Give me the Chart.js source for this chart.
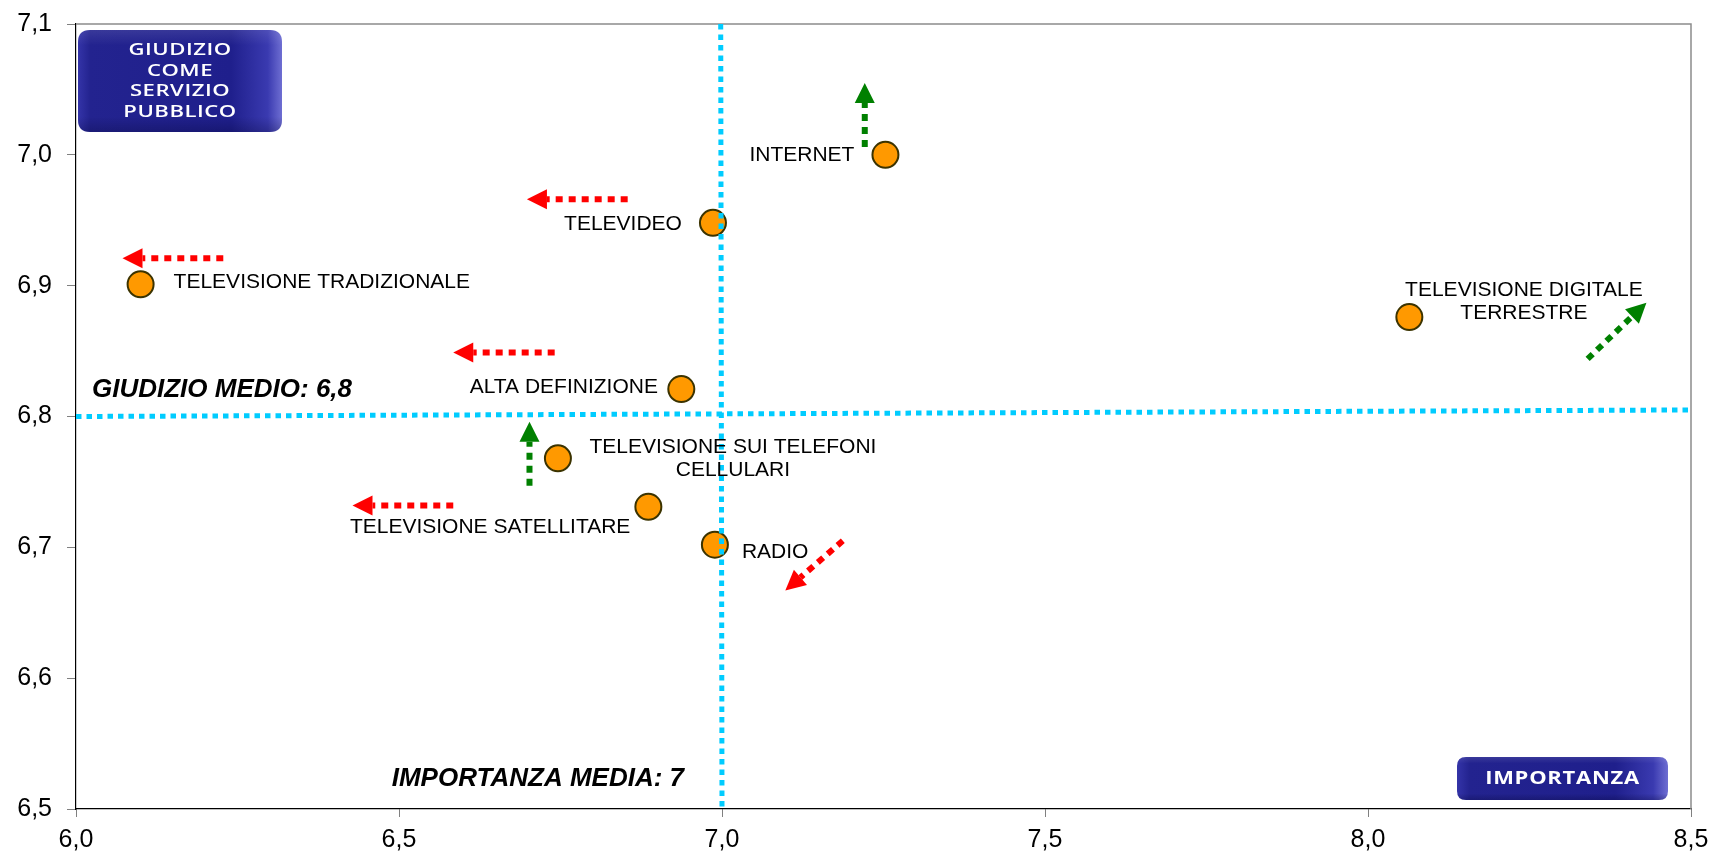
<!DOCTYPE html>
<html lang="it">
<head>
<meta charset="utf-8">
<title>Giudizio come servizio pubblico e importanza dei media</title>
<script src="https://cdn.jsdelivr.net/npm/chart.js@4.4.1/dist/chart.umd.min.js"></script>
<style>
  html, body { margin: 0; padding: 0; background: #ffffff; }
  #wrap { width: 1713px; height: 854px; position: relative; }
</style>
</head>
<body>
<div id="wrap"><canvas id="mappa"></canvas></div>
<script>
// Media analysed (label lines split with \n)
const media = [
  'TELEVISIONE TRADIZIONALE',
  'TELEVIDEO',
  'INTERNET',
  'TELEVISIONE DIGITALE\nTERRESTRE',
  'ALTA DEFINIZIONE',
  'TELEVISIONE SUI TELEFONI\nCELLULARI',
  'TELEVISIONE SATELLITARE',
  'RADIO'
];
// x: importanza, y: giudizio come servizio pubblico
const importanza = [6.100, 6.986, 7.253, 8.064, 6.937, 6.746, 6.886, 6.989];
const giudizio   = [6.901, 6.948, 7.000, 6.876, 6.821, 6.768, 6.731, 6.702];

// Trend arrows (tail -> tip) in data units, one per medium
const trendDaX = [6.228, 6.854, 7.221, 8.340, 6.741, 6.702, 6.584, 7.187];
const trendDaY = [6.921, 6.966, 7.006, 6.844, 6.849, 6.747, 6.732, 6.705];
const trendAX  = [6.072, 6.698, 7.221, 8.431, 6.584, 6.702, 6.428, 7.098];
const trendAY  = [6.921, 6.966, 7.055, 6.887, 6.849, 6.796, 6.732, 6.667];
const trendPositivo = [false, false, true, true, false, true, false, false];

// Average reference lines
const giudizioMedio = 6.8;
const importanzaMedia = 7;
const lineaGiudizioY = [6.800, 6.805];    // at x = 6.0 and x = 8.5
const lineaImportanzaX = [6.998, 7.000];  // at y = 7.1 and y = 6.5

// Axis ticks
const xTicks = [6.0, 6.5, 7.0, 7.5, 8.0, 8.5];
const yTicks = [6.5, 6.6, 6.7, 6.8, 6.9, 7.0, 7.1];

const FONT = "'Liberation Sans', Arial, Helvetica, sans-serif";
const fmt = v => Number(v).toFixed(1).replace('.', ',');

// Label placement around each point (pixel offsets from the marker centre)
const labelPlacement = [
  { align: 'left',   dx:  33,  dy: -2.5 },
  { align: 'right',  dx: -31,  dy:  1 },
  { align: 'right',  dx: -31,  dy:  0.7 },
  { align: 'center', dx: 114.6, dy: -15.3 },
  { align: 'right',  dx: -23.4, dy: -2.3 },
  { align: 'center', dx: 175,  dy:  0 },
  { align: 'right',  dx: -18,  dy: 20 },
  { align: 'left',   dx:  27,  dy:  7 }
];

function roundRect(ctx, x, y, w, h, r) {
  ctx.beginPath();
  ctx.moveTo(x + r, y);
  ctx.lineTo(x + w - r, y);
  ctx.quadraticCurveTo(x + w, y, x + w, y + r);
  ctx.lineTo(x + w, y + h - r);
  ctx.quadraticCurveTo(x + w, y + h, x + w - r, y + h);
  ctx.lineTo(x + r, y + h);
  ctx.quadraticCurveTo(x, y + h, x, y + h - r);
  ctx.lineTo(x, y + r);
  ctx.quadraticCurveTo(x, y, x + r, y);
  ctx.closePath();
}

function drawBadge(ctx, x, y, w, h, r, lines, font, lineGap, scaleX, spacing) {
  ctx.save();
  roundRect(ctx, x, y, w, h, r);
  const g = ctx.createLinearGradient(x, 0, x + w, 0);
  g.addColorStop(0, '#3434a8');
  g.addColorStop(0.06, '#23238f');
  g.addColorStop(0.75, '#1f1f8c');
  g.addColorStop(0.93, '#3a3ab0');
  g.addColorStop(1, '#6e6ed2');
  ctx.fillStyle = g;
  ctx.fill();
  const gv = ctx.createLinearGradient(0, y, 0, y + h);
  gv.addColorStop(0, 'rgba(255,255,255,0.10)');
  gv.addColorStop(0.15, 'rgba(255,255,255,0)');
  gv.addColorStop(0.85, 'rgba(0,0,40,0)');
  gv.addColorStop(1, 'rgba(0,0,40,0.25)');
  ctx.fillStyle = gv;
  ctx.fill();
  ctx.fillStyle = '#ffffff';
  ctx.font = font;
  ctx.textAlign = 'center';
  ctx.textBaseline = 'middle';
  ctx.letterSpacing = spacing;
  const cx = x + w / 2;
  const startY = y + h / 2 - (lines.length - 1) * lineGap / 2;
  lines.forEach((t, i) => {
    ctx.save();
    ctx.translate(cx, startY + i * lineGap);
    ctx.scale(scaleX, 1);
    ctx.fillText(t, 0, 0);
    ctx.restore();
  });
  ctx.restore();
}

const decorPlugin = {
  id: 'decor',
  beforeDatasetsDraw(chart) {
    const { ctx, chartArea: a } = chart;
    // light frame on top and right
    ctx.save();
    ctx.strokeStyle = '#8c8c8c';
    ctx.lineWidth = 1.5;
    ctx.beginPath();
    ctx.moveTo(a.left, a.top);
    ctx.lineTo(a.right, a.top);
    ctx.lineTo(a.right, a.bottom);
    ctx.stroke();
    ctx.restore();
  },
  afterDatasetsDraw(chart) {
    const { ctx, chartArea: a, scales: { x, y } } = chart;

    // trend arrows
    ctx.save();
    for (let i = 0; i < trendDaX.length; i++) {
      const x0 = x.getPixelForValue(trendDaX[i]);
      const y0 = y.getPixelForValue(trendDaY[i]);
      const x1 = x.getPixelForValue(trendAX[i]);
      const y1 = y.getPixelForValue(trendAY[i]);
      const col = trendPositivo[i] ? '#008000' : '#ff0000';
      const ang = Math.atan2(y1 - y0, x1 - x0);
      const headLen = 20, headW = 20;
      const bx = x1 - Math.cos(ang) * headLen;
      const by = y1 - Math.sin(ang) * headLen;
      ctx.strokeStyle = col;
      ctx.lineWidth = 6;
      ctx.lineCap = 'butt';
      ctx.setLineDash([7, 6]);
      ctx.beginPath();
      ctx.moveTo(x0, y0);
      ctx.lineTo(bx, by);
      ctx.stroke();
      ctx.setLineDash([]);
      ctx.fillStyle = col;
      ctx.beginPath();
      ctx.moveTo(x1, y1);
      ctx.lineTo(bx + Math.sin(ang) * headW / 2, by - Math.cos(ang) * headW / 2);
      ctx.lineTo(bx - Math.sin(ang) * headW / 2, by + Math.cos(ang) * headW / 2);
      ctx.closePath();
      ctx.fill();
    }
    ctx.restore();

    // point labels
    ctx.save();
    ctx.fillStyle = '#000000';
    ctx.font = `21px ${FONT}`;
    ctx.textBaseline = 'middle';
    const lh = 23;
    media.forEach((name, i) => {
      const px = x.getPixelForValue(importanza[i]);
      const py = y.getPixelForValue(giudizio[i]);
      const p = labelPlacement[i];
      const lines = name.split('\n');
      ctx.textAlign = p.align;
      const y0 = py + p.dy - (lines.length - 1) * lh / 2;
      lines.forEach((t, k) => ctx.fillText(t, px + p.dx, y0 + k * lh));
    });

    // average captions
    ctx.font = `italic bold 26px ${FONT}`;
    ctx.textBaseline = 'alphabetic';
    ctx.textAlign = 'left';
    ctx.fillText('GIUDIZIO MEDIO: ' + fmt(giudizioMedio), a.left + 16, y.getPixelForValue(giudizioMedio) - 20);
    ctx.textAlign = 'right';
    ctx.fillText('IMPORTANZA MEDIA: ' + importanzaMedia, x.getPixelForValue(importanzaMedia) - 38, a.bottom - 23);
    ctx.restore();

    // axis badges
    drawBadge(ctx, a.left + 2, a.top + 6, 204, 102, 12,
      ['GIUDIZIO', 'COME', 'SERVIZIO', 'PUBBLICO'],
      "600 17px 'Open Sans', sans-serif", 20.5, 1.3, '0.4px');
    drawBadge(ctx, a.right - 234, a.bottom - 52, 211, 43, 9,
      ['IMPORTANZA'],
      "bold 18px 'Open Sans', sans-serif", 0, 1.22, '0.6px');
  }
};

const puntiMedia = importanza.map((v, i) => ({ x: v, y: giudizio[i] }));

new Chart(document.getElementById('mappa'), {
  type: 'scatter',
  data: {
    datasets: [
      {
        type: 'line',
        data: [{ x: xTicks[0], y: lineaGiudizioY[0] }, { x: xTicks[xTicks.length - 1], y: lineaGiudizioY[1] }],
        borderColor: '#00ccff',
        borderWidth: 5,
        borderDash: [5.5, 5],
        borderCapStyle: 'butt',
        pointRadius: 0,
        fill: false,
        order: 1
      },
      {
        type: 'line',
        data: [{ x: lineaImportanzaX[0], y: yTicks[yTicks.length - 1] }, { x: lineaImportanzaX[1], y: yTicks[0] }],
        borderColor: '#00ccff',
        borderWidth: 5,
        borderDash: [5.5, 5],
        borderCapStyle: 'butt',
        pointRadius: 0,
        fill: false,
        order: 1
      },
      {
        data: puntiMedia,
        backgroundColor: '#ff9900',
        borderColor: '#3b3300',
        borderWidth: 2,
        pointRadius: 13,
        pointHoverRadius: 13,
        order: 2
      }
    ]
  },
  options: {
    responsive: true,
    maintainAspectRatio: false,
    animation: false,
    events: [],
    layout: { padding: { top: 24, right: 22, left: 0, bottom: 0 } },
    plugins: { legend: { display: false }, tooltip: { enabled: false } },
    scales: {
      x: {
        type: 'linear',
        min: xTicks[0],
        max: xTicks[xTicks.length - 1],
        afterBuildTicks: s => { s.ticks = xTicks.map(v => ({ value: v })); },
        afterFit: s => { s.height = 45; s.paddingLeft = 0; s.paddingRight = 0; },
        grid: { drawOnChartArea: false, drawTicks: true, tickLength: 8, color: '#808080' },
        border: { color: '#000000', width: 1.2 },
        ticks: { color: '#000000', font: { family: FONT, size: 25 }, padding: 8, maxRotation: 0, callback: v => fmt(v) }
      },
      y: {
        type: 'linear',
        min: yTicks[0],
        max: yTicks[yTicks.length - 1],
        afterBuildTicks: s => { s.ticks = yTicks.map(v => ({ value: v })); },
        afterFit: s => { s.width = 76; s.paddingTop = 0; s.paddingBottom = 0; },
        grid: { drawOnChartArea: false, drawTicks: true, tickLength: 9, color: '#808080' },
        border: { color: '#000000', width: 1.2 },
        ticks: { color: '#000000', font: { family: FONT, size: 25 }, padding: 15, callback: v => fmt(v) }
      }
    }
  },
  plugins: [decorPlugin]
});
</script>
</body>
</html>
